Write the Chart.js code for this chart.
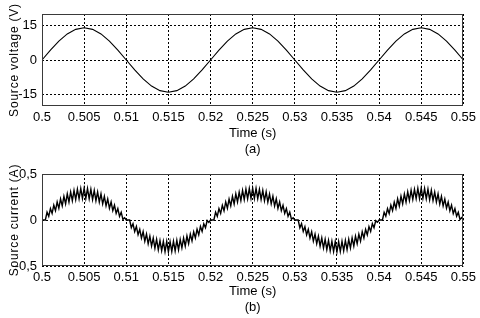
<!DOCTYPE html>
<html>
<head>
<meta charset="utf-8">
<script src="https://cdn.jsdelivr.net/npm/chart.js@4/dist/chart.umd.min.js"></script>
<style>
  html, body { margin: 0; padding: 0; background: #fff; }
  canvas { display: block; }
</style>
</head>
<body>
<canvas id="cv" width="480" height="158"></canvas>
<canvas id="ci" width="480" height="160"></canvas>
<script>
// ---- data ----
const timeStart = 0.5;
const voltageStep = 0.001;   // sampling interval of the voltage trace (s)
const currentStep = 0.0002;  // sampling interval of the current trace (s)

const sourceVoltage = [
  0, 4.33, 8.23, 11.33, 13.31, 14.0, 13.31, 11.33, 8.23, 4.33,
  0, -4.33, -8.23, -11.33, -13.31, -14.0, -13.31, -11.33, -8.23, -4.33,
  0, 4.33, 8.23, 11.33, 13.31, 14.0, 13.31, 11.33, 8.23, 4.33,
  0, -4.33, -8.23, -11.33, -13.31, -14.0, -13.31, -11.33, -8.23, -4.33,
  0, 4.33, 8.23, 11.33, 13.31, 14.0, 13.31, 11.33, 8.23, 4.33,
  0
];

const sourceCurrent = [
  0, 0, 0, 0.085, 0.040, 0.124, 0.071, 0.161, 0.101, 0.196,
  0.127, 0.229, 0.153, 0.258, 0.175, 0.284, 0.195, 0.305, 0.210, 0.323,
  0.222, 0.335, 0.231, 0.343, 0.234, 0.345, 0.234, 0.343, 0.231, 0.335,
  0.222, 0.323, 0.210, 0.305, 0.195, 0.284, 0.175, 0.258, 0.153, 0.229,
  0.127, 0.196, 0.101, 0.161, 0.071, 0.124, 0.040, 0.085, 0.007, 0.025,
  0, 0, 0, -0.083, -0.041, -0.126, -0.070, -0.160, -0.102, -0.197,
  -0.126, -0.230, -0.152, -0.259, -0.176, -0.283, -0.196, -0.306, -0.209, -0.324,
  -0.223, -0.334, -0.232, -0.344, -0.233, -0.346, -0.235, -0.342, -0.230, -0.336,
  -0.221, -0.324, -0.211, -0.304, -0.196, -0.285, -0.174, -0.257, -0.154, -0.228,
  -0.128, -0.195, -0.100, -0.162, -0.070, -0.123, -0.041, -0.084, -0.006, -0.026,
  0, 0, 0, 0.086, 0.039, 0.125, 0.072, 0.160, 0.100, 0.197,
  0.128, 0.228, 0.154, 0.257, 0.174, 0.285, 0.196, 0.304, 0.211, 0.322,
  0.221, 0.336, 0.230, 0.342, 0.235, 0.344, 0.233, 0.344, 0.232, 0.334,
  0.223, 0.322, 0.209, 0.306, 0.194, 0.283, 0.176, 0.259, 0.152, 0.230,
  0.126, 0.197, 0.102, 0.160, 0.072, 0.125, 0.039, 0.086, 0.008, 0.024,
  0, 0, 0, -0.085, -0.040, -0.124, -0.071, -0.161, -0.101, -0.196,
  -0.127, -0.229, -0.153, -0.258, -0.175, -0.284, -0.195, -0.305, -0.210, -0.323,
  -0.222, -0.335, -0.231, -0.343, -0.234, -0.345, -0.234, -0.343, -0.231, -0.335,
  -0.222, -0.323, -0.210, -0.305, -0.195, -0.284, -0.175, -0.258, -0.153, -0.229,
  -0.127, -0.196, -0.101, -0.161, -0.071, -0.124, -0.040, -0.085, -0.007, -0.025,
  0, 0, 0, 0.084, 0.041, 0.123, 0.070, 0.162, 0.102, 0.195,
  0.126, 0.230, 0.152, 0.259, 0.176, 0.283, 0.194, 0.306, 0.211, 0.324,
  0.223, 0.334, 0.232, 0.344, 0.233, 0.346, 0.235, 0.342, 0.230, 0.336,
  0.221, 0.324, 0.211, 0.304, 0.196, 0.285, 0.174, 0.257, 0.154, 0.228,
  0.128, 0.195, 0.100, 0.162, 0.070, 0.123, 0.041, 0.084, 0.006, 0.026,
  0
];

const timeTicks = [0.5, 0.505, 0.51, 0.515, 0.52, 0.525, 0.53, 0.535, 0.54, 0.545, 0.55];
const timeTickLabels = ["0.5", "0.505", "0.51", "0.515", "0.52", "0.525", "0.53", "0.535", "0.54", "0.545", "0.55"];
const voltageTicks = [-15, 0, 15];
const voltageTickLabels = ["-15", "0", "15"];
const currentTicks = [-0.5, 0, 0.5];
const currentTickLabels = ["-0,5", "0", "0,5"];

// ---- rendering ----
const FONT = "'Liberation Sans', Arial, sans-serif";

const boxPlugin = {
  id: 'box',
  beforeDraw(chart) {
    const s = chart.scales.y;
    if (s && !s._lsPatched) {
      const orig = s.drawTitle;
      s.drawTitle = function (a) {
        const c = this.ctx;
        c.save();
        c.letterSpacing = '0.8px';
        orig.call(this, a);
        c.restore();
      };
      s._lsPatched = true;
    }
  },
  afterDatasetsDraw(chart) {
    const a = chart.chartArea, c = chart.ctx;
    c.save();
    c.strokeStyle = '#3a3a3a';
    c.lineWidth = 1;
    c.setLineDash([]);
    c.strokeRect(Math.round(a.left) + 0.5, Math.round(a.top) + 0.5,
                 Math.round(a.right - a.left) - 1, Math.round(a.bottom - a.top) - 1);
    c.restore();
  }
};

function makeChart(id, series, step, yMin, yMax, yTicks, yLabels, yTitle, sub, padTop, titleBottomPad, lineW) {
  const pts = series.map((v, i) => ({ x: timeStart + i * step, y: v }));
  return new Chart(document.getElementById(id), {
    type: 'line',
    data: { datasets: [{ data: pts, borderColor: '#000', borderWidth: lineW, pointRadius: 0, tension: 0, fill: false }] },
    plugins: [boxPlugin],
    options: {
      responsive: false,
      animation: false,
      devicePixelRatio: 1,
      layout: { padding: { top: padTop, right: 15, left: 0, bottom: 0 } },
      plugins: { legend: { display: false }, tooltip: { enabled: false } },
      scales: {
        x: {
          type: 'linear', min: 0.5, max: 0.55,
          afterBuildTicks: (s) => { s.ticks = timeTicks.map(v => ({ value: v })); },
          afterFit: (s) => { s.height = 52; },
          ticks: {
            autoSkip: false, maxRotation: 0, padding: 4, color: '#000',
            font: { family: FONT, size: 13 },
            callback: (v, i) => timeTickLabels[i]
          },
          grid: { color: '#000', lineWidth: 1, drawTicks: false },
          border: { display: false, dash: [2, 2] },
          title: {
            display: true, text: ['Time (s)', sub], color: '#000',
            font: { family: FONT, size: 13, lineHeight: 16 / 13 },
            padding: { top: 0, bottom: titleBottomPad }
          }
        },
        y: {
          min: yMin, max: yMax,
          afterBuildTicks: (s) => { s.ticks = yTicks.map(v => ({ value: v })); },
          afterFit: (s) => { s.width = 42; },
          ticks: {
            autoSkip: false, padding: 5, color: '#000',
            font: { family: FONT, size: 13 },
            callback: (v, i) => yLabels[i]
          },
          grid: { color: '#000', lineWidth: 1, drawTicks: false },
          border: { display: false, dash: [2, 2] },
          title: {
            display: true, text: yTitle, color: '#000',
            font: { family: FONT, size: 12, lineHeight: 14 / 12 },
            padding: { top: 8, bottom: 0 }
          }
        }
      }
    }
  });
}

makeChart('cv', sourceVoltage, voltageStep, -20, 20, voltageTicks, voltageTickLabels, 'Source voltage (V)', '(a)', 14, 0.5, 1.1);
makeChart('ci', sourceCurrent, currentStep, -0.5, 0.5, currentTicks, currentTickLabels, 'Source current (A)', '(b)', 16, 2.5, 1.4);
</script>
</body>
</html>
